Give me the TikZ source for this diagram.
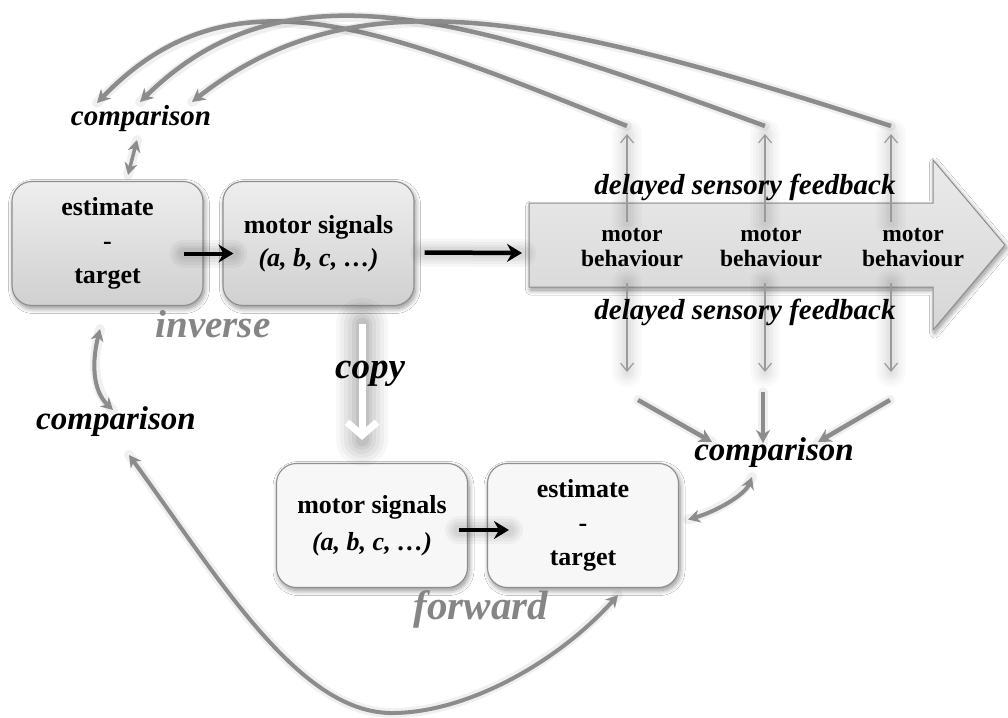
\documentclass[tikz,border=0pt]{standalone}
\usepackage{fontspec}
\setmainfont{Liberation Serif}
\usetikzlibrary{arrows.meta,shadows.blur,calc}
\definecolor{arcgray}{HTML}{8C8C8C}
\definecolor{edgegray}{HTML}{8E8E8E}
\definecolor{labelgray}{HTML}{858585}
\definecolor{thingray}{HTML}{9A9A9A}
\definecolor{boxtop}{HTML}{EEEEEE}
\definecolor{boxbottom}{HTML}{D0D0D0}
\definecolor{paleface}{HTML}{F7F7F7}
\definecolor{arrowtop}{HTML}{EAEAEA}
\definecolor{arrowbottom}{HTML}{D6D6D6}
\begin{document}
\begin{tikzpicture}[x=1pt,y=-1pt,
  softshadow/.style={blur shadow={shadow xshift=1.5pt,shadow yshift=-3pt,
      shadow blur radius=5pt,shadow blur steps=10,shadow opacity=45}},
  box/.style={draw=edgegray,line width=1.1pt,rounded corners=20pt,
      minimum width=191pt,minimum height=124pt,align=center,inner sep=0pt,
      font=\fontsize{26}{34}\selectfont\bfseries,softshadow},
  topbox/.style={box,top color=boxtop,bottom color=boxbottom},
  lowbox/.style={box,fill=paleface},
  word/.style={inner sep=0pt,anchor=mid},
  cmp/.style={word,font=\fontsize{33}{40}\selectfont\bfseries\itshape},
  feedback/.style={word,font=\fontsize{29}{35}\selectfont\bfseries\itshape},
  graylabel/.style={word,text=labelgray,font=\fontsize{39}{46}\selectfont\bfseries\itshape},
  behaviour/.style={inner sep=0pt,align=center,font=\fontsize{23.5}{25}\selectfont\bfseries},
  glowline/.style={preaction={draw=black,opacity=#1,line cap=round,-}},
  halo/.style={preaction={draw=black,opacity=0.06,line width=10pt,line cap=round,-}},
  grayarrow/.style={draw=arcgray,line width=4.5pt,halo,-{Stealth[length=13pt,width=14pt]}},
  graydouble/.style={draw=arcgray,line width=4pt,halo,
      {Stealth[length=12pt,width=13pt]}-{Stealth[length=12pt,width=13pt]}},
  blackglow/.style={
      preaction={draw=black,opacity=0.035,line width=28pt,line cap=round,-},
      preaction={draw=black,opacity=0.035,line width=22pt,line cap=round,-},
      preaction={draw=black,opacity=0.04,line width=16pt,line cap=round,-},
      preaction={draw=black,opacity=0.04,line width=11pt,line cap=round,-}},
  blackarrow/.style={draw=black,line width=4pt,blackglow,
      -{Stealth[length=15pt,width=18pt,inset=5pt]}},
  thinglow/.style={
      preaction={draw=black,opacity=0.018,line width=30pt,line cap=round,-},
      preaction={draw=black,opacity=0.02,line width=24pt,line cap=round,-},
      preaction={draw=black,opacity=0.02,line width=18pt,line cap=round,-},
      preaction={draw=black,opacity=0.025,line width=13pt,line cap=round,-},
      preaction={draw=black,opacity=0.025,line width=8pt,line cap=round,-}},
  thinarrow/.style={draw=thingray,line width=1.2pt,thinglow,
      -{Straight Barb[length=8pt,width=13pt]}},
]
\useasboundingbox (0,0) rectangle (1008,717);
\fill[white] (0,0) rectangle (1008,717);

% motor behaviour band
\path[draw=edgegray,line width=1pt,top color=arrowtop,bottom color=arrowbottom,softshadow]
  (529,203) -- (933,203) -- (933,160) -- (1005,245) -- (933,330) -- (933,287) -- (529,287) -- cycle;
\coordinate (band) at (529,245);

% inverse model
\node[topbox] (inv1) at (107.5,243.5) {estimate\\-\\target};
\node[topbox] (inv2) at (318.5,243.5) {motor signals\\[-1pt]{\itshape(a, b, c, …)}};
% forward model
\node[lowbox] (fwd1) at (372,525.5) {motor signals\\[3pt]{\itshape(a, b, c, …)}};
\node[lowbox] (fwd2) at (583,525.5) {estimate\\-\\target};

% labels
\node[cmp,font=\fontsize{29}{35}\selectfont\bfseries\itshape] (cmpTop) at (141,123) {comparison};
\node[cmp] (cmpLeft) at (116,427) {comparison};
\node[cmp] (cmpRight) at (774,458) {comparison};
\node[graylabel] (inverse) at (213,335) {inverse};
\node[graylabel,font=\fontsize{41}{48}\selectfont\bfseries\itshape] (forward) at (481,617) {forward};

% feedback channels
\foreach \n/\x in {A/627,B/765,C/891}{
  \coordinate (u\n0) at (\x,222);
  \coordinate (u\n1) at (\x,134);
  \coordinate (d\n0) at (\x,283);
  \coordinate (d\n1) at (\x,372);
  \draw[thinarrow] (u\n0) -- (u\n1);
  \draw[thinarrow] (d\n0) -- (d\n1);
}
\node[feedback] (dsfTop) at (745,192) {delayed sensory feedback};
\node[feedback] (dsfBot) at (745,317) {delayed sensory feedback};
\node[behaviour] (mb1) at (632,248) {motor\\behaviour};
\node[behaviour] (mb2) at (771,248) {motor\\behaviour};
\node[behaviour] (mb3) at (913,248) {motor\\behaviour};

% forward flow
\draw[blackarrow] ($(inv1.east)+(-20,10)$) -- ($(inv2.west)+(11,10)$);
\draw[blackarrow,line width=4.5pt] ($(inv2.east)+(10,9)$) -- ($(band)+(-7,8)$);
\draw[blackarrow] ($(fwd1.east)+(-9,4.5)$) -- ($(fwd2.west)+(22,4.5)$);

% efference copy
\coordinate (copyA) at ($(inv2.south)+(43.5,18)$);
\coordinate (copyB) at ($(fwd1.north)+(-10,-23)$);
\foreach \w/\o in {52/0.03,44/0.035,36/0.04,28/0.045,20/0.05,13/0.06}{
  \draw[draw=black,opacity=\o,line width=\w pt,line cap=round] (copyA) -- (copyB);
}
\draw[white,line width=7pt,-{Straight Barb[length=13pt,width=30pt]}] (copyA) -- (copyB);
\node[word,font=\fontsize{37}{44}\selectfont\bfseries\itshape] (copy) at (370,376) {copy};

% sensory feedback back to the inverse comparison
\draw[grayarrow] ($(uA1)+(0,-8)$) .. controls +(-250,-100) and +(133,-138) .. ($(cmpTop.mid)+(-44,-20)$);
\draw[grayarrow] ($(uB1)+(0,-8)$) .. controls +(-300,-110) and +(145,-143) .. ($(cmpTop.mid)+(-1,-21)$);
\draw[grayarrow] ($(uC1)+(0,-8)$) .. controls +(-340,-110) and +(165,-130) .. ($(cmpTop.mid)+(51,-21)$);

% sensory feedback into the forward comparison
\draw[grayarrow] ($(dA1)+(11,28)$) -- ($(cmpRight.mid)+(-62,-16)$);
\draw[grayarrow] ($(dB1)+(-2,20)$) -- ($(cmpRight.mid)+(-11,-15)$);
\draw[grayarrow] ($(dC1)+(-1,28)$) -- ($(cmpRight.mid)+(44,-16)$);

% comparisons linked to the models
\draw[graydouble,line width=3.5pt] ($(cmpTop.mid)+(-4,17)$) -- ($(inv1.north)+(20.5,-6)$);
\draw[graydouble] ($(inv1.south)+(-7.5,23)$) .. controls +(-8,32) and +(-21,-20) .. ($(cmpLeft.mid)+(-3,-17)$);
\draw[graydouble] ($(fwd2.east)+(9,-6)$) .. controls +(28,-8) and +(-7,18) .. ($(cmpRight.mid)+(-22,19)$);
\draw[graydouble] ($(cmpLeft.mid)+(13,28)$) .. controls +(91,125) and +(-94,2) .. (394,713)
  .. controls +(76,-1) and +(-58,65) .. ($(fwd2.south)+(35,7)$);
\end{tikzpicture}
\end{document}
